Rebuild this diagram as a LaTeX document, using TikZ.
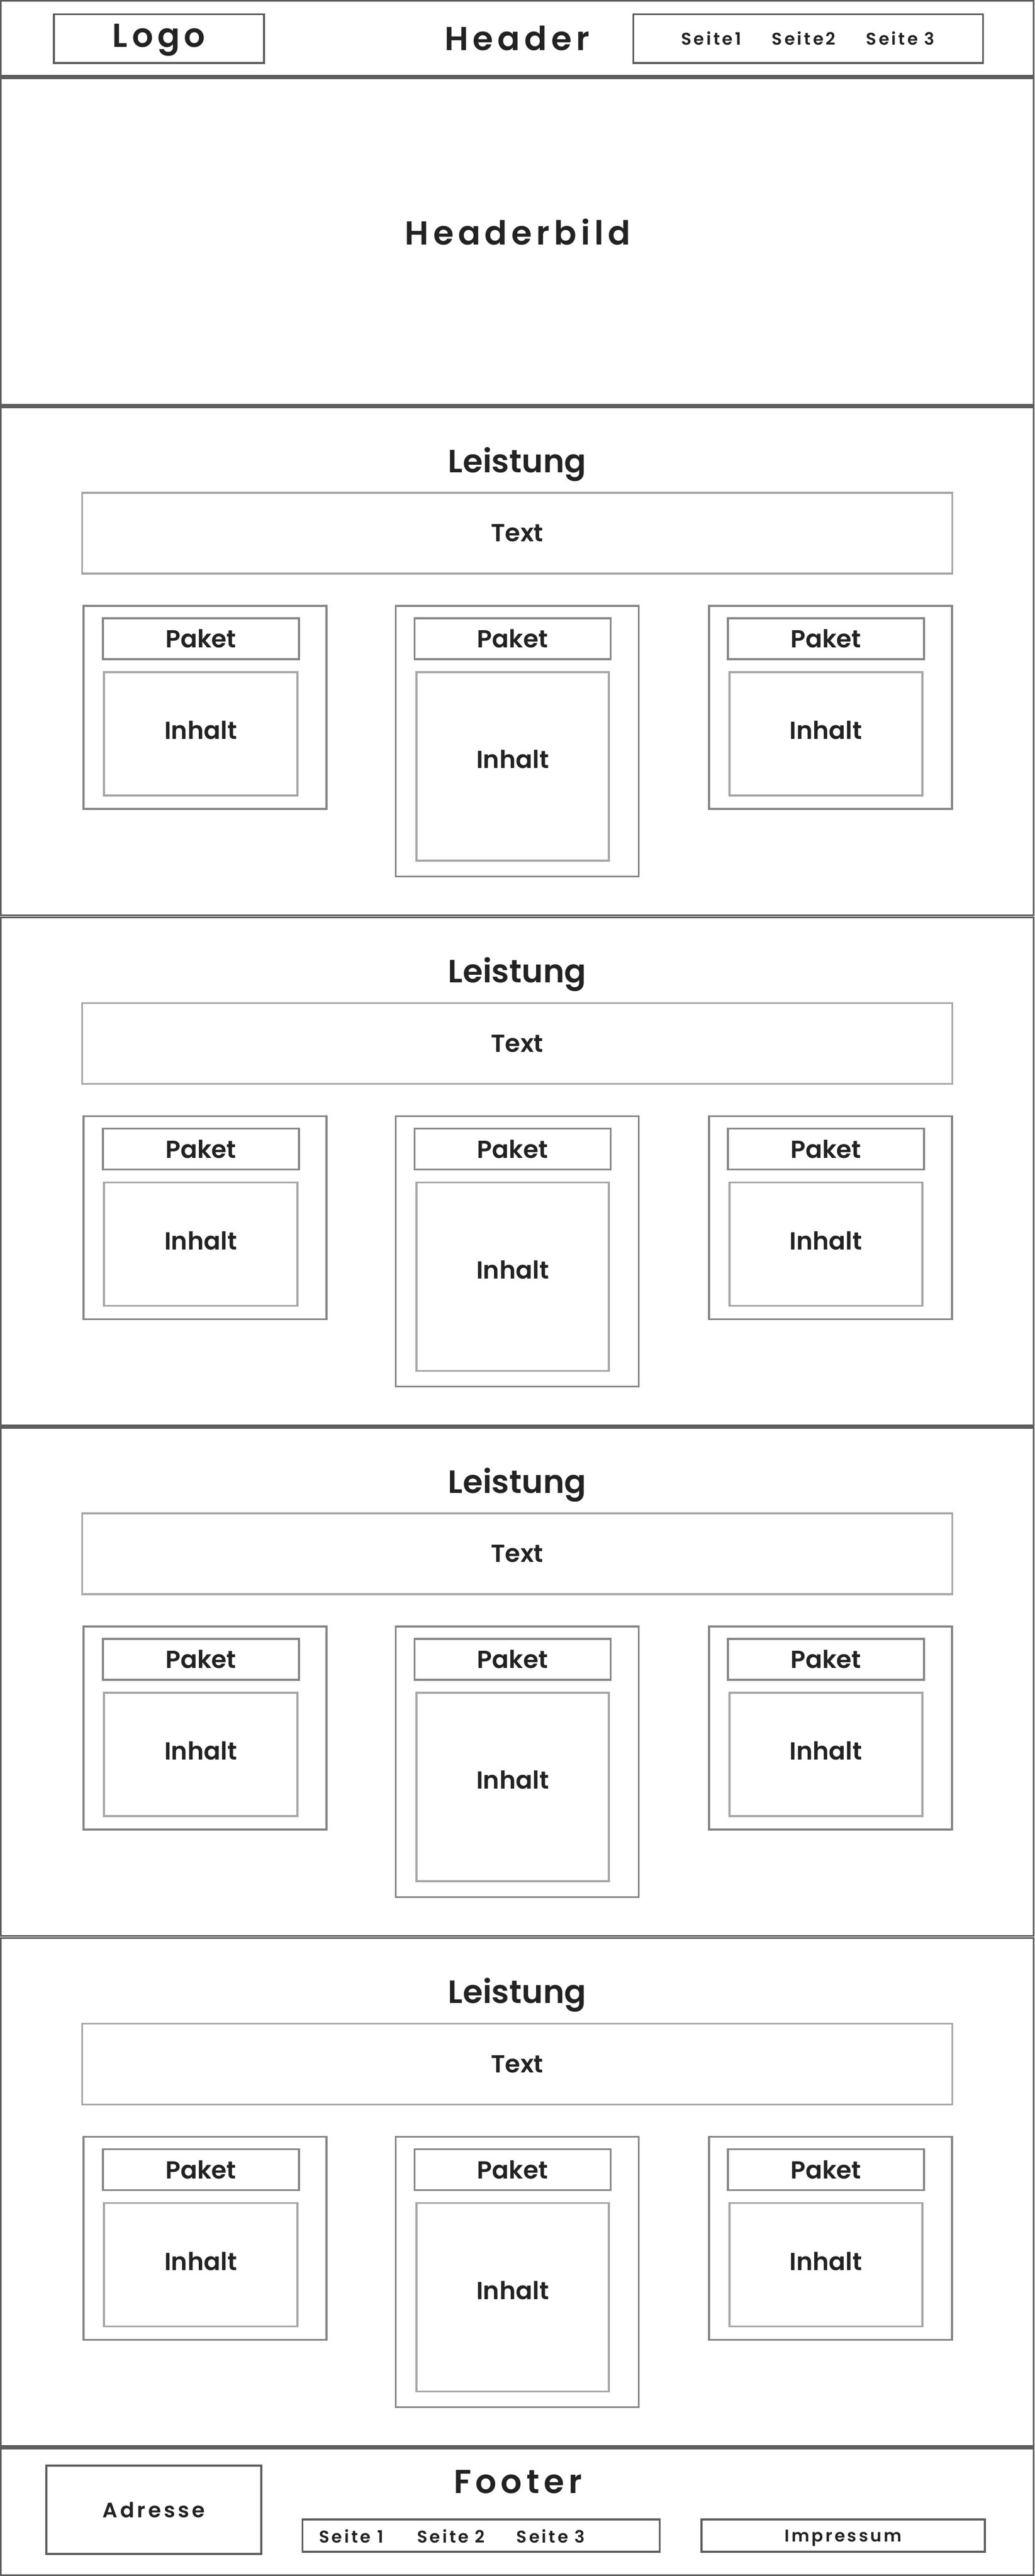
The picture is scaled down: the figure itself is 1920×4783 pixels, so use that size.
\documentclass[tikz,border=0pt]{standalone}
\usepackage{fontspec}
\setmainfont{Poppins}[BoldFont={Poppins SemiBold}]
\newfontfamily\spaced{Poppins SemiBold}[LetterSpace=13]
\usetikzlibrary{positioning}
\definecolor{frame}{HTML}{5E5E5E}
\definecolor{pkgline}{HTML}{858585}
\definecolor{inline}{HTML}{A6A6A6}
\definecolor{ink}{HTML}{222222}

\begin{document}
\begin{tikzpicture}[x=0.01cm,y=-0.01cm,line width=0.95pt,
  every node/.style={text=ink,inner sep=0pt,text depth=0pt},
  area/.style={draw=frame},
  box/.style 2 args={draw=frame,minimum width=#1cm,minimum height=#2cm},
  pkg/.style 2 args={draw=pkgline,minimum width=#1cm,minimum height=#2cm},
  soft/.style 2 args={draw=inline,minimum width=#1cm,minimum height=#2cm},
  title/.style={font=\spaced\fontsize{17.5}{20}\selectfont},
  small/.style={font=\spaced\fontsize{9}{11}\selectfont},
  heading/.style={font=\bfseries\fontsize{17}{20}\selectfont},
  label/.style={font=\bfseries\fontsize{13}{15}\selectfont}]

\useasboundingbox (0,0) rectangle (1920,4783);

% header
\draw[area] (1.65,1.65) rectangle (1918.35,141);
\node[box={3.90}{0.905}] (logo) at (295,71.75) {};
\node[title] (logotext) at (295,66.5) {Logo};
\node[title] (header) at (960,71) {Header};
\node[box={6.48}{0.905}] (nav) at (1500,71.75) {};
\node[small] (s1) at (1320,71) {Seite1};
\node[small] (s2) at (1492,71) {Seite2};
\node[small] (s3) at (1671,71) {Seite 3};

% headerbild
\draw[area] (1.65,145) rectangle (1918.35,752);
\node[title] (bild) at (961,430) {Headerbild};

% leistungen
\foreach \i in {0,...,3}{
  \pgfmathsetmacro\t{756+947.5*\i}
  \draw[area] (1.65,\t) rectangle (1918.35,\t+943.5);
  \node[heading] (leist\i) at (960,\t+98) {Leistung};
  \node[soft={16.14}{1.50},label] (text\i) at (960,\t+234) {Text};
  \node[pkg={4.51}{3.77}] (pkgL\i) at (380.5,\t+557.5) {};
  \node[pkg={4.51}{5.02}] (pkgM\i) at (960,\t+620) {};
  \node[pkg={4.51}{3.77}] (pkgR\i) at (1541.5,\t+557.5) {};
  \node[pkg={3.64}{0.76},label] (pakL\i) at (373,\t+430) {Paket};
  \node[pkg={3.64}{0.76},label] (pakM\i) at (951.5,\t+430) {Paket};
  \node[pkg={3.64}{0.76},label] (pakR\i) at (1533,\t+430) {Paket};
  \node[soft={3.59}{2.29}] (inL\i) at (372.5,\t+606.5) {};
  \node[soft={3.57}{3.50}] (inM\i) at (951.5,\t+667) {};
  \node[soft={3.58}{2.29}] (inR\i) at (1533,\t+606.5) {};
  \node[label] (inLtext\i) at (372.5,\t+600) {Inhalt};
  \node[label] (inMtext\i) at (951.5,\t+654) {Inhalt};
  \node[label] (inRtext\i) at (1533,\t+600) {Inhalt};
}

% footer
\draw[area] (1.65,4546) rectangle (1918.35,4781.35);
\node[box={3.99}{1.64},font=\spaced\fontsize{11}{13}\selectfont] (adr) at (285.5,4660) {Adresse};
\node[title] (footer) at (961,4608) {Footer};
\node[box={6.62}{0.60}] (fnav) at (893,4708) {};
\node[small] (f1) at (652,4709) {Seite 1};
\node[small] (f2) at (837,4709) {Seite 2};
\node[small] (f3) at (1022,4709) {Seite 3};
\node[box={5.26}{0.60},small] (imp) at (1565,4708) {Impressum};

\end{tikzpicture}
\end{document}
